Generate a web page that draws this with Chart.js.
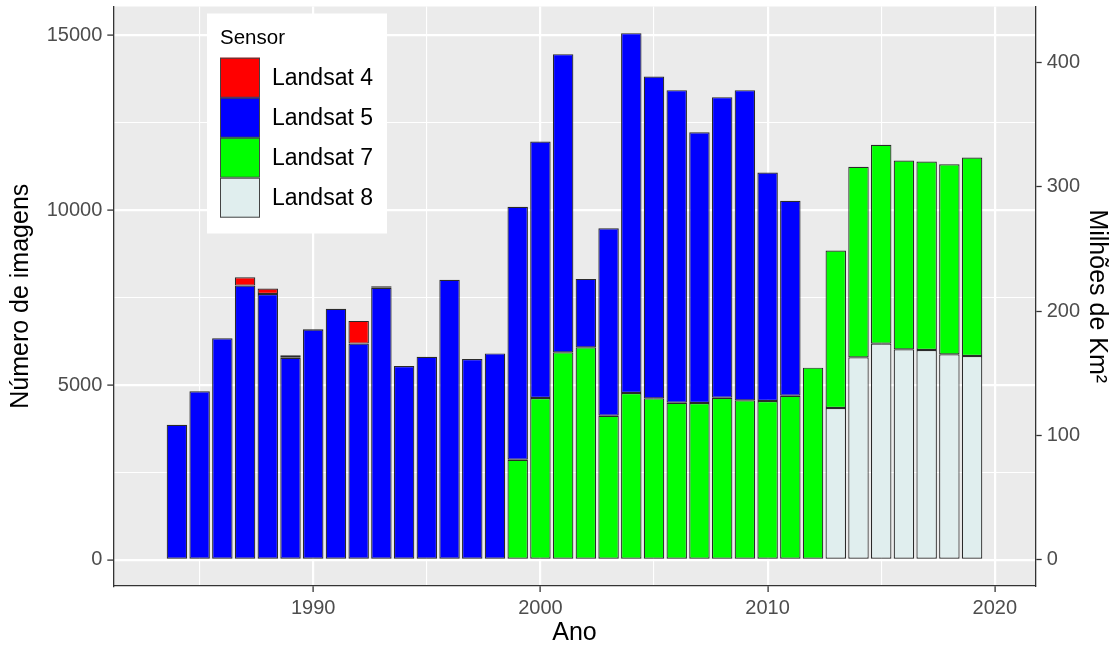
<!DOCTYPE html>
<html>
<head>
<meta charset="utf-8">
<script src="https://cdn.jsdelivr.net/npm/chart.js@4"></script>
<style>
  html, body { margin: 0; padding: 0; background: #fff; }
  #wrap { width: 1117px; height: 646px; position: relative; }
</style>
</head>
<body>
<div id="wrap"><canvas id="sensorChart"></canvas></div>
<script>
// --- dados ---
const years = [1984, 1985, 1986, 1987, 1988, 1989, 1990, 1991, 1992, 1993, 1994, 1995,
               1996, 1997, 1998, 1999, 2000, 2001, 2002, 2003, 2004, 2005, 2006, 2007,
               2008, 2009, 2010, 2011, 2012, 2013, 2014, 2015, 2016, 2017, 2018, 2019];

const landsat4 = [null, null, null, 240, 155, 70, 20, null, 650, 45, null, null,
                  null, null, null, null, null, null, null, null, null, null, null, null,
                  null, null, null, null, null, null, null, null, null, null, null, null];

const landsat5 = [3865, 4820, 6340, 7845, 7605, 5780, 6585, 7180, 6185, 7780, 5545, 5810,
                  8010, 5745, 5905, 7237, 7337, 8532, 1958, 5366, 10296, 9209, 8942, 7748,
                  8599, 8875, 6537, 5574, null, null, null, null, null, null, null, null];

const landsat7 = [null, null, null, null, null, null, null, null, null, null, null, null,
                  null, null, null, 2863, 4630, 5935, 6078, 4120, 4772, 4619, 4495, 4486,
                  4638, 4562, 4543, 4695, 5497, 4504, 5451, 5689, 5402, 5392, 5440, 5677];

const landsat8 = [null, null, null, null, null, null, null, null, null, null, null, null,
                  null, null, null, null, null, null, null, null, null, null, null, null,
                  null, null, null, null, null, 4343, 5792, 6184, 6021, 6003, 5878, 5832];

const sensorNames = ['Landsat 4', 'Landsat 5', 'Landsat 7', 'Landsat 8'];

const yMajorTicks = [0, 5000, 10000, 15000];
const yMinorTicks = [2500, 7500, 12500];
const xMajorTicks = [1990, 2000, 2010, 2020];
const xMinorTicks = [1985, 1995, 2005, 2015];
const areaTicks = [0, 100, 200, 300, 400];

// imagens -> milhões de km²
const KM_PER_IMAGE = 0.0281;
const Y_MIN = -750, Y_MAX = 15830;

const FONT = '"Liberation Sans", Arial, Helvetica, sans-serif';
Chart.defaults.font.family = FONT;

const toPoints = (arr) => years.map((yr, i) => ({ x: yr, y: arr[i] }));

function isMajor(ctx, majors) {
    return !!(ctx && ctx.tick && majors.includes(ctx.tick.value));
}
function gridWidth(ctx, majors) {
    return isMajor(ctx, majors) ? 2.2 : 1.1;
}
function tickMarkColor(ctx, majors) {
    return isMajor(ctx, majors) ? '#333333' : 'rgba(0,0,0,0)';
}
// tamanho fixo das margens dos eixos, sem folga extra para rótulos
function fixSize(scale, size) {
    if (scale.isHorizontal()) scale.height = size; else scale.width = size;
    scale.paddingTop = 0;
    scale.paddingBottom = 0;
    scale.paddingLeft = 0;
    scale.paddingRight = 0;
}

// fundo cinza do painel (estilo ggplot)
const panelBackground = {
    id: 'panelBackground',
    beforeDraw(chart) {
        const { ctx, chartArea: { left, top, width, height } } = chart;
        ctx.save();
        ctx.fillStyle = '#EBEBEB';
        ctx.fillRect(left, top, width, height);
        ctx.restore();
    }
};

// legenda dentro do painel
const sensorLegend = {
    id: 'sensorLegend',
    afterDraw(chart) {
        const ctx = chart.ctx;
        const ds = chart.data.datasets.slice().reverse();
        ctx.save();
        ctx.fillStyle = '#FFFFFF';
        ctx.fillRect(207, 13.5, 180, 220);
        ctx.fillStyle = '#000';
        ctx.font = '20.5px ' + FONT;
        ctx.textBaseline = 'middle';
        ctx.textAlign = 'left';
        ctx.fillText('Sensor', 220, 38);
        ds.forEach((d, i) => {
            const y = 57.7 + i * 40;
            ctx.fillStyle = d.backgroundColor;
            ctx.fillRect(220, y, 40, 40);
            ctx.strokeStyle = '#444';
            ctx.lineWidth = 1;
            ctx.strokeRect(220.5, y + 0.5, 39, 39);
            ctx.fillStyle = '#000';
            ctx.font = '23px ' + FONT;
            ctx.fillText(d.label, 272, y + 21);
        });
        ctx.restore();
    }
};

function makeDataset(label, arr, color) {
    return {
        label: label,
        data: toPoints(arr),
        backgroundColor: color,
        borderColor: '#2A2A2A',
        borderWidth: 1.2,
        borderSkipped: false,
        barPercentage: 0.9,
        categoryPercentage: 1.0
    };
}

new Chart(document.getElementById('sensorChart').getContext('2d'), {
    type: 'bar',
    data: {
        datasets: [
            makeDataset(sensorNames[3], landsat8, '#E0EEEE'),
            makeDataset(sensorNames[2], landsat7, '#00FF00'),
            makeDataset(sensorNames[1], landsat5, '#0000FF'),
            makeDataset(sensorNames[0], landsat4, '#FF0000')
        ]
    },
    options: {
        responsive: true,
        maintainAspectRatio: false,
        animation: false,
        layout: { padding: { top: 6.5, left: 0, right: 0, bottom: 0 } },
        plugins: {
            legend: { display: false },
            tooltip: { enabled: false }
        },
        scales: {
            x: {
                type: 'linear',
                stacked: true,
                offset: false,
                min: 1981.2,
                max: 2021.8,
                afterBuildTicks: (scale) => {
                    scale.ticks = xMinorTicks.concat(xMajorTicks).sort((a, b) => a - b).map(v => ({ value: v }));
                },
                afterFit: (scale) => fixSize(scale, 60),
                ticks: {
                    color: '#4D4D4D',
                    font: { size: 20 },
                    padding: 4,
                    maxRotation: 0,
                    autoSkip: false,
                    callback: (v) => xMajorTicks.includes(v) ? String(v) : ''
                },
                grid: {
                    offset: false,
                    color: '#FFFFFF',
                    lineWidth: (c) => gridWidth(c, xMajorTicks),
                    tickColor: (c) => tickMarkColor(c, xMajorTicks),
                    tickWidth: 1.3,
                    tickLength: 6
                },
                border: { display: true, color: '#333333', width: 1.3 },
                title: {
                    display: true,
                    text: 'Ano',
                    color: '#000',
                    font: { size: 25, lineHeight: 1 },
                    padding: { top: 0, bottom: 0 }
                }
            },
            y: {
                position: 'left',
                stacked: true,
                min: Y_MIN,
                max: Y_MAX,
                afterBuildTicks: (scale) => {
                    scale.ticks = yMinorTicks.concat(yMajorTicks).sort((a, b) => a - b).map(v => ({ value: v }));
                },
                afterFit: (scale) => fixSize(scale, 113.3),
                ticks: {
                    color: '#4D4D4D',
                    font: { size: 20 },
                    padding: 5,
                    autoSkip: false,
                    callback: (v) => yMajorTicks.includes(v) ? String(v) : ''
                },
                grid: {
                    color: '#FFFFFF',
                    lineWidth: (c) => gridWidth(c, yMajorTicks),
                    tickColor: (c) => tickMarkColor(c, yMajorTicks),
                    tickWidth: 1.3,
                    tickLength: 6
                },
                border: { display: true, color: '#333333', width: 1.3 },
                title: {
                    display: true,
                    text: 'Número de imagens',
                    color: '#000',
                    font: { size: 25, lineHeight: 1 },
                    padding: { top: 9, bottom: 0 }
                }
            },
            y2: {
                position: 'right',
                min: Y_MIN * KM_PER_IMAGE,
                max: Y_MAX * KM_PER_IMAGE,
                afterBuildTicks: (scale) => {
                    scale.ticks = areaTicks.map(v => ({ value: v }));
                },
                afterFit: (scale) => fixSize(scale, 81.3),
                ticks: {
                    color: '#4D4D4D',
                    font: { size: 20 },
                    padding: 5,
                    autoSkip: false,
                    callback: (v) => String(v)
                },
                grid: {
                    drawOnChartArea: false,
                    tickColor: '#333333',
                    tickWidth: 1.3,
                    tickLength: 6
                },
                border: { display: true, color: '#333333', width: 1.3 },
                title: {
                    display: true,
                    text: 'Milhões de Km²',
                    color: '#000',
                    font: { size: 25, lineHeight: 1 },
                    padding: { top: 8, bottom: 0 }
                }
            }
        }
    },
    plugins: [panelBackground, sensorLegend]
});
</script>
</body>
</html>
